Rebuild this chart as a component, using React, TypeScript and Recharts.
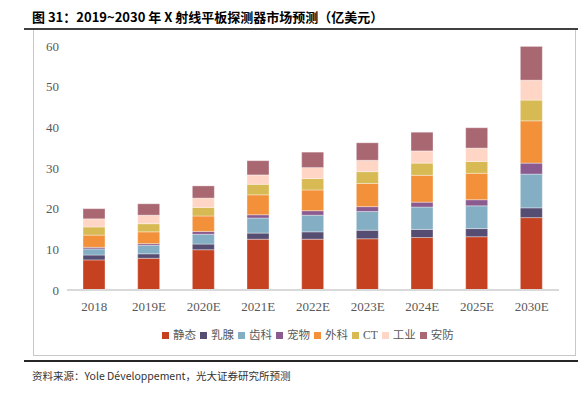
import React from "react"
import { BarChart, Bar, XAxis, YAxis, Legend } from "recharts"

const categories = ["2018", "2019E", "2020E", "2021E", "2022E", "2023E", "2024E", "2025E", "2030E"]

// 亿美元, stacked from bottom to top
const staticVals = [7.4, 7.8, 9.9, 12.5, 12.5, 12.6, 12.9, 13.1, 17.8]
const breastVals = [1.2, 1.1, 1.4, 1.5, 1.8, 2.1, 2.0, 2.0, 2.4]
const dentalVals = [1.5, 2.1, 2.4, 3.7, 4.1, 4.6, 5.5, 5.6, 8.3]
const petVals = [0.4, 0.4, 0.7, 0.8, 1.1, 1.2, 1.2, 1.5, 2.7]
const surgeryVals = [3.0, 2.9, 3.8, 4.9, 5.1, 5.7, 6.6, 6.5, 10.4]
const ctVals = [2.0, 2.0, 2.1, 2.6, 2.8, 2.9, 3.0, 2.9, 5.1]
const industryVals = [2.0, 2.1, 2.3, 2.3, 2.7, 2.8, 3.0, 3.3, 4.9]
const securityVals = [2.5, 2.8, 3.0, 3.5, 3.8, 4.3, 4.6, 5.0, 8.3]

const yTicks = [0, 10, 20, 30, 40, 50, 60]

const series = [
  { key: "static", name: "静态", color: "#C5411F", values: staticVals },
  { key: "breast", name: "乳腺", color: "#564D72", values: breastVals },
  { key: "dental", name: "齿科", color: "#84AEC4", values: dentalVals },
  { key: "pet", name: "宠物", color: "#8B5A8E", values: petVals },
  { key: "surgery", name: "外科", color: "#F2913A", values: surgeryVals },
  { key: "ct", name: "CT", color: "#D8BA55", values: ctVals },
  { key: "industry", name: "工业", color: "#FFD5C5", values: industryVals },
  { key: "security", name: "安防", color: "#A96772", values: securityVals },
]

const data = categories.map((year, i) => {
  const row: Record<string, string | number> = { year }
  series.forEach((s) => {
    row[s.key] = s.values[i]
  })
  return row
})

const numFont = "'Liberation Serif', 'Noto Sans CJK SC', serif"
const cjkFont = "'Noto Sans CJK SC', sans-serif"

function LegendRow({ payload }: any) {
  // keep the series order, not the alphabetical one
  const order = (v: string) => series.findIndex((s) => s.name === v)
  const items = [...(payload || [])].sort((a: any, b: any) => order(a.value) - order(b.value))
  return (
    <div style={{ display: "flex", alignItems: "center" }}>
      {items.map((p: any) => (
        <div key={p.value} style={{ display: "flex", alignItems: "center", marginRight: 4 }}>
          <span style={{ width: 7, height: 7, background: p.color, display: "inline-block", marginRight: 4 }} />
          <span style={{ fontSize: 11.5, color: "#595959", fontFamily: numFont, lineHeight: "14px" }}>{p.value}</span>
        </div>
      ))}
    </div>
  )
}

export default function App() {
  return (
    <div style={{ position: "absolute", left: 0, top: 0, width: 578, height: 398, background: "#fff", fontFamily: cjkFont }}>
      <div style={{ position: "absolute", left: 32, top: 8, fontSize: 13, fontWeight: 700, color: "#000", whiteSpace: "nowrap", lineHeight: "18px" }}>
        图 31：2019~2030 年 X 射线平板探测器市场预测（亿美元）
      </div>
      <div style={{ position: "absolute", left: 24, top: 28, width: 554, height: 2, background: "#404040" }} />
      <div style={{ position: "absolute", left: 33, top: 30, width: 543, height: 326, border: "1px solid #c8c8c8", borderTop: "none", boxSizing: "border-box" }} />
      <div style={{ position: "absolute", left: 24, top: 360, width: 554, height: 2, background: "#262626" }} />
      <div style={{ position: "absolute", left: 32, top: 369, fontSize: 10.5, color: "#333", whiteSpace: "nowrap", lineHeight: "14px" }}>
        资料来源：Yole Développement，光大证券研究所预测
      </div>
      <div style={{ position: "absolute", left: 0, top: 0 }}>
        <BarChart width={578} height={398} data={data} margin={{ top: 46, right: 19, bottom: 78, left: 37 }} barSize={22}>
          <XAxis
            dataKey="year"
            axisLine={{ stroke: "#d9d9d9", strokeWidth: 2 }}
            tickLine={false}
            tickMargin={6}
            tick={{ fill: "#595959", fontSize: 13, fontFamily: numFont }}
          />
          <YAxis
            width={30}
            domain={[0, 60]}
            ticks={yTicks}
            axisLine={false}
            tickLine={false}
            tick={{ fill: "#595959", fontSize: 13, fontFamily: numFont }}
          />
          <Legend
            layout="horizontal"
            verticalAlign="middle"
            align="center"
            wrapperStyle={{ top: 328, left: 162, width: 320 }}
            content={<LegendRow />}
          />
          {series.map((s) => (
            <Bar
              key={s.key}
              dataKey={s.key}
              name={s.name}
              stackId="a"
              fill={s.color}
              stroke="#ffffff"
              strokeOpacity={0.35}
              strokeWidth={1}
              isAnimationActive={false}
            />
          ))}
        </BarChart>
      </div>
    </div>
  )
}
